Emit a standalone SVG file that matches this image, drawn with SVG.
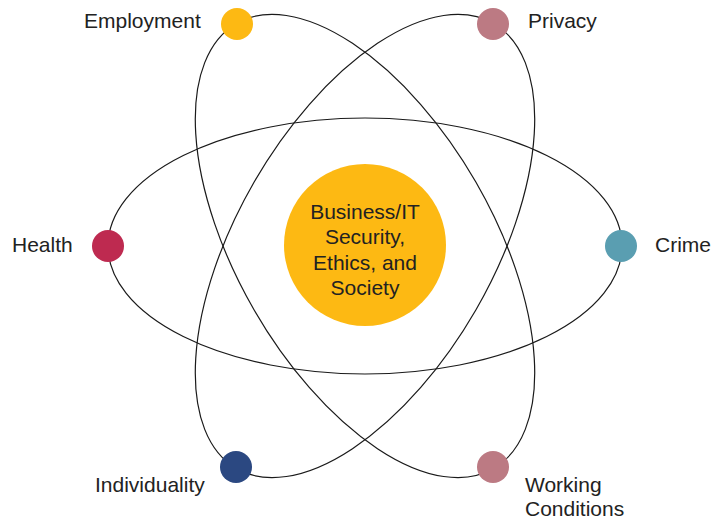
<svg xmlns="http://www.w3.org/2000/svg" width="716" height="521" viewBox="0 0 716 521">
<style>
.orb{fill:none;stroke:#1a1a1a;stroke-width:1.2}
.lbl{font-family:"Liberation Sans",Arial,sans-serif;font-size:21px;fill:#222}
.ctr{font-family:"Liberation Sans",Arial,sans-serif;font-size:21px;fill:#222;text-anchor:middle}
</style>
<rect width="716" height="521" fill="#fff"/>
<g id="connectors">
<ellipse class="orb" cx="365" cy="246" rx="257" ry="128"/>
<ellipse class="orb" cx="365" cy="246" rx="257" ry="128" transform="rotate(60 365 246)"/>
<ellipse class="orb" cx="365" cy="246" rx="257" ry="128" transform="rotate(-60 365 246)"/>
</g>
<g id="center">
<circle cx="365" cy="245" r="81" fill="#FDB913"/>
<text class="ctr" x="365" y="219">Business/IT</text>
<text class="ctr" x="365" y="244">Security,</text>
<text class="ctr" x="365" y="270">Ethics, and</text>
<text class="ctr" x="365" y="295">Society</text>
</g>
<g id="employment">
<circle cx="237" cy="24" r="16" fill="#FDB913"/>
<text class="lbl" x="84" y="28">Employment</text>
</g>
<g id="privacy">
<circle cx="493" cy="24" r="16" fill="#BC7A83"/>
<text class="lbl" x="528" y="28">Privacy</text>
</g>
<g id="health">
<circle cx="108" cy="246" r="16" fill="#BE2A50"/>
<text class="lbl" x="12" y="252">Health</text>
</g>
<g id="crime">
<circle cx="621" cy="246" r="16" fill="#5A9EB1"/>
<text class="lbl" x="655" y="252">Crime</text>
</g>
<g id="individuality">
<circle cx="236" cy="467" r="16" fill="#2B4881"/>
<text class="lbl" x="95" y="492">Individuality</text>
</g>
<g id="working">
<circle cx="493" cy="467" r="16" fill="#BC7A83"/>
<text class="lbl" x="525" y="492">Working</text>
<text class="lbl" x="525" y="516">Conditions</text>
</g>
</svg>
